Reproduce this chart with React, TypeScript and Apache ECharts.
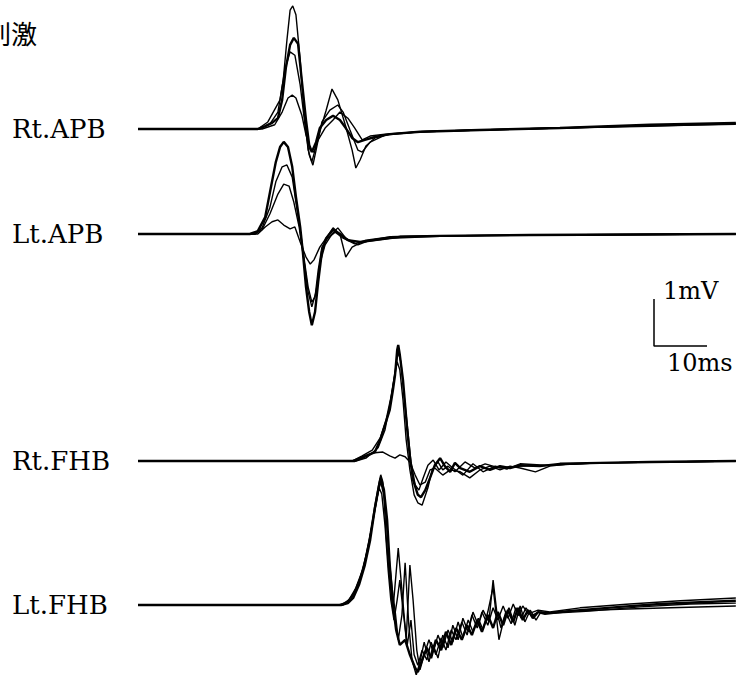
import React, { useEffect, useRef } from "react";
import * as echarts from "echarts";

// ---- Data: [time (ms), amplitude (mV)] per sweep, relative to each trace's baseline ----
const rtApbA: number[][] = [
  [0, 0], [22.6, 0], [24.0, 0.06], [25.3, 0.13], [26.4, 0.23], [27.2, 0.62], [27.9, 1.3], [28.7, 1.79],
  [29.4, 1.94], [30.2, 1.81], [30.9, 1.04], [31.7, 0.19], [32.3, -0.34], [32.8, -0.49], [33.6, -0.28],
  [34.3, 0.02], [35.5, 0.19], [36.8, 0.28], [38.1, 0.19], [39.2, 0.02], [40.4, -0.19], [41.5, -0.28],
  [42.8, -0.23], [44.7, -0.17], [47.5, -0.11], [53.2, -0.06], [64.5, -0.02], [79.6, 0.02], [96.6, 0.09], [112.8, 0.13],
];
const rtApbB: number[][] = [
  [0, 0], [23.0, 0], [24.9, 0.11], [26.4, 0.36], [27.4, 1.04], [28.1, 1.89], [28.7, 2.53], [29.2, 2.62],
  [29.8, 2.43], [30.6, 1.47], [31.3, 0.4], [32.1, -0.45], [32.8, -0.7], [33.4, -0.45], [34.3, -0.06],
  [35.5, 0.4], [36.6, 0.85], [37.7, 0.62], [39.1, 0.09], [40.4, -0.45], [41.1, -0.83], [41.9, -0.66],
  [43.0, -0.36], [44.7, -0.19], [47.5, -0.11], [53.2, -0.06], [64.5, -0.02], [79.6, 0.02], [96.6, 0.06], [112.8, 0.11],
];
const rtApbC: number[][] = [
  [0, 0], [23.4, 0], [25.8, 0.09], [27.2, 0.36], [28.3, 0.66], [29.1, 0.72], [29.8, 0.66], [30.9, 0.3],
  [31.7, -0.13], [32.5, -0.45], [33.2, -0.49], [34.0, -0.23], [35.3, 0.02], [36.8, 0.19], [38.1, 0.36],
  [39.6, 0.23], [40.9, 0.02], [42.3, -0.23], [43.8, -0.15], [46.6, -0.11], [53.2, -0.06], [64.5, -0.02],
  [79.6, 0.02], [96.6, 0.08], [112.8, 0.12],
];
const rtApbD: number[][] = [
  [0, 0], [22.6, 0], [24.5, 0.15], [26.8, 0.62], [27.7, 1.26], [28.7, 1.64], [29.6, 1.57], [30.6, 0.94],
  [31.5, 0.09], [32.3, -0.55], [33.0, -0.77], [33.6, -0.45], [34.7, 0.15], [36.2, 0.4], [37.7, 0.51],
  [38.7, 0.36], [40.0, -0.02], [41.5, -0.45], [42.3, -0.49], [43.8, -0.28], [46.6, -0.13], [53.2, -0.06],
  [64.5, -0.02], [79.6, 0.02], [96.6, 0.07], [112.8, 0.1],
];

const ltApbA: number[][] = [
  [0, 0], [21.1, 0], [22.6, 0.06], [24.0, 0.36], [24.9, 0.89], [26.0, 1.53], [26.8, 1.85], [27.5, 1.96],
  [28.3, 1.85], [29.1, 1.43], [29.8, 0.79], [30.6, 0.15], [31.1, -0.38], [31.7, -1.13], [32.3, -1.66],
  [32.8, -1.94], [33.4, -1.66], [34.0, -1.02], [34.7, -0.38], [35.5, -0.09], [36.8, 0.09], [38.1, 0],
  [39.6, -0.13], [41.9, -0.17], [44.7, -0.13], [49.4, -0.06], [57.0, -0.04], [74.0, -0.02], [112.8, 0],
];
const ltApbB: number[][] = [
  [0, 0], [22.1, 0], [23.4, 0.13], [24.9, 0.57], [26.0, 1.11], [27.2, 1.43], [28.1, 1.47], [29.1, 1.21],
  [29.8, 0.68], [30.6, 0.09], [31.3, -0.49], [32.1, -1.13], [32.8, -1.45], [33.4, -1.34], [34.0, -0.77],
  [34.7, -0.28], [35.8, -0.09], [37.2, 0.04], [38.7, -0.09], [40.9, -0.21], [43.0, -0.13], [47.5, -0.06],
  [57.0, -0.04], [74.0, -0.02], [112.8, 0],
];
const ltApbC: number[][] = [
  [0, 0], [22.6, 0], [24.0, 0.15], [25.3, 0.26], [26.4, 0.3], [27.5, 0.19], [28.7, 0.11], [29.6, 0.15],
  [30.6, -0.17], [31.7, -0.49], [32.5, -0.64], [33.2, -0.55], [34.3, -0.28], [35.5, -0.09], [36.8, 0.13],
  [38.1, 0], [39.2, -0.49], [40.4, -0.28], [42.3, -0.17], [47.5, -0.09], [57.0, -0.05], [74.0, -0.03], [112.8, 0],
];
const ltApbD: number[][] = [
  [0, 0], [22.1, 0], [23.4, 0.09], [24.9, 0.43], [26.4, 0.85], [27.5, 1.06], [28.5, 1.02], [29.4, 0.68],
  [30.4, 0.15], [31.3, -0.55], [32.1, -1.23], [32.8, -1.55], [33.6, -1.23], [34.3, -0.64], [35.3, -0.23],
  [36.6, 0], [37.7, 0.13], [39.2, -0.09], [41.5, -0.23], [43.8, -0.13], [47.5, -0.06], [57.0, -0.04],
  [74.0, -0.02], [112.8, 0],
];

const rtFhbA: number[][] = [
  [0, 0], [40.9, 0], [42.8, 0.09], [44.7, 0.19], [45.7, 0.45], [46.6, 0.77], [47.5, 1.09], [48.1, 1.51],
  [48.5, 1.83], [48.9, 2.36], [49.1, 2.47], [49.4, 2.26], [50.0, 1.72], [50.8, 0.66], [51.3, 0.09],
  [51.9, -0.4], [52.8, -0.72], [53.4, -0.77], [54.2, -0.62], [55.1, -0.36], [56.0, -0.09], [57.0, 0.06],
  [57.9, -0.11], [58.9, -0.23], [59.8, -0.04], [60.8, -0.15], [62.6, -0.23], [64.5, -0.11], [66.4, -0.19],
  [68.3, -0.11], [70.2, -0.15], [72.1, -0.09], [75.8, -0.11], [79.6, -0.06], [87.2, -0.04], [96.6, -0.02], [112.8, 0],
];
const rtFhbB: number[][] = [
  [0, 0], [40.4, 0], [42.3, 0.09], [44.2, 0.17], [46.2, 0.19], [47.5, 0.11], [48.5, 0.06], [49.4, 0.13],
  [50.4, 0.09], [51.3, -0.02], [52.3, -0.3], [53.2, -0.51], [54.2, -0.45], [55.1, -0.19], [56.0, -0.15],
  [57.5, -0.3], [58.9, -0.19], [60.8, -0.23], [62.6, -0.36], [64.5, -0.19], [66.4, -0.11], [68.3, -0.19],
  [70.2, -0.11], [72.1, -0.15], [75.0, -0.23], [77.7, -0.11], [81.5, -0.06], [87.2, -0.04], [112.8, 0],
];
const rtFhbC: number[][] = [
  [0, 0], [41.1, 0], [43.0, 0.06], [45.3, 0.28], [46.6, 0.66], [47.5, 1.19], [48.3, 1.72], [48.9, 2.11],
  [49.4, 1.94], [50.0, 1.3], [50.6, 0.45], [51.3, -0.19], [52.1, -0.72], [52.8, -0.89], [53.6, -0.94],
  [54.7, -0.57], [55.5, -0.19], [56.6, -0.02], [57.5, -0.19], [58.5, -0.11], [59.8, -0.23], [61.7, -0.02],
  [63.6, -0.15], [65.5, -0.06], [68.3, -0.15], [72.1, -0.11], [77.7, -0.09], [87.2, -0.04], [112.8, 0],
];
const rtFhbD: number[][] = [
  [0, 0], [40.4, 0], [42.3, 0.11], [44.2, 0.23], [45.7, 0.49], [46.8, 0.87], [47.7, 1.34], [48.5, 1.89],
  [49.1, 2.32], [49.6, 2.11], [50.2, 1.4], [50.8, 0.77], [51.5, -0.02], [52.3, -0.51], [53.0, -0.62],
  [53.8, -0.36], [54.7, -0.09], [55.7, 0.02], [56.8, -0.19], [58.1, -0.02], [59.4, -0.15], [61.3, -0.3],
  [63.2, -0.06], [65.1, -0.23], [67.4, -0.11], [69.6, -0.17], [72.1, -0.06], [76.8, -0.09], [87.2, -0.04], [112.8, 0],
];

const ltFhbA: number[][] = [
  [0, 0], [38.3, 0], [39.6, 0.04], [40.6, 0.15], [41.7, 0.43], [42.8, 0.85], [43.8, 1.38], [44.7, 2.06],
  [45.5, 2.55], [45.8, 2.7], [46.4, 2.45], [47.0, 1.81], [47.5, 0.85], [48.1, 0], [48.7, -0.53], [49.4, -0.85],
  [50.4, -0.74], [51.3, -1.06], [52.3, -1.34], [52.8, -1.43], [53.6, -1.17], [54.5, -0.91], [55.3, -1.13],
  [56.2, -0.74], [57.2, -0.96], [58.1, -0.57], [59.1, -0.85], [60.0, -0.49], [61.1, -0.74], [62.1, -0.43],
  [63.0, -0.64], [64.0, -0.32], [64.9, -0.57], [66.0, -0.21], [67.0, -0.49], [67.9, -0.15], [68.9, -0.43],
  [69.8, -0.11], [70.8, -0.36], [71.7, -0.06], [72.6, -0.32], [73.6, -0.11], [74.5, -0.28], [75.5, -0.15],
  [76.8, -0.19], [79.6, -0.15], [83.4, -0.11], [90.9, -0.04], [98.5, 0.02], [106.0, 0.06], [112.8, 0.09],
];
const ltFhbB: number[][] = [
  [0, 0], [38.7, 0], [40.0, 0.09], [41.1, 0.32], [42.3, 0.7], [43.4, 1.21], [44.5, 1.91], [45.3, 2.4],
  [45.8, 2.62], [46.4, 2.32], [46.8, 1.49], [47.4, 0.64], [48.1, -0.11], [49.1, 1.21], [49.8, 0.32],
  [50.6, -0.74], [51.3, 0.85], [51.9, 0.11], [52.6, -0.96], [53.2, -1.38], [54.0, -1.06], [54.9, -0.74],
  [55.7, -1.0], [56.6, -0.64], [57.5, -0.91], [58.5, -0.53], [59.4, -0.79], [60.4, -0.36], [61.3, -0.7],
  [62.3, -0.32], [63.2, -0.57], [64.2, -0.28], [65.1, -0.53], [66.0, -0.15], [67.0, 0.38], [68.1, -0.74],
  [69.1, -0.28], [70.0, -0.06], [71.1, -0.43], [72.1, -0.02], [73.0, -0.36], [74.0, -0.11], [75.1, -0.32],
  [76.0, -0.15], [77.7, -0.17], [81.5, -0.13], [90.9, -0.09], [100.4, -0.06], [112.8, -0.02],
];
const ltFhbC: number[][] = [
  [0, 0], [37.9, 0], [39.4, 0.06], [40.6, 0.23], [41.9, 0.57], [43.0, 1.04], [44.2, 1.7], [45.1, 2.28],
  [45.5, 2.49], [46.0, 2.36], [46.6, 1.7], [47.2, 0.74], [47.7, 0.11], [48.3, -0.32], [48.9, 0.11],
  [49.4, 0.53], [50.0, -0.11], [50.8, -0.85], [51.5, -0.32], [52.1, -1.06], [52.8, -1.28], [53.6, -0.96],
  [54.5, -1.17], [55.3, -0.79], [56.2, -1.06], [57.2, -0.7], [58.1, -0.96], [59.1, -0.53], [60.0, -0.74],
  [61.1, -0.36], [62.1, -0.64], [63.0, -0.21], [64.0, -0.49], [64.9, -0.15], [66.0, -0.43], [67.0, -0.06],
  [67.9, -0.32], [68.9, -0.02], [69.8, -0.28], [70.8, 0.02], [71.7, -0.23], [72.6, -0.02], [73.6, -0.19],
  [75.5, -0.11], [77.7, -0.15], [83.4, -0.06], [92.8, 0.02], [102.3, 0.09], [112.8, 0.15],
];
const ltFhbD: number[][] = [
  [0, 0], [38.3, 0], [39.8, 0.11], [41.1, 0.36], [42.5, 0.79], [43.6, 1.38], [44.7, 2.13], [45.5, 2.62],
  [45.8, 2.77], [46.2, 2.62], [46.8, 1.91], [47.4, 0.96], [48.1, 0.21], [48.5, -0.11], [49.1, -0.74],
  [49.8, -0.21], [50.4, 0.9], [51.1, -0.43], [51.7, -1.17], [52.5, -1.49], [53.2, -1.21], [54.0, -0.79],
  [54.9, -1.21], [55.7, -0.85], [56.6, -1.13], [57.5, -0.64], [58.5, -0.91], [59.4, -0.43], [60.4, -0.74],
  [61.3, -0.28], [62.3, -0.57], [63.2, -0.15], [64.2, -0.43], [65.1, -0.11], [66.2, -0.36], [67.0, 0.53],
  [67.7, -0.15], [68.5, -0.49], [69.4, -0.15], [70.4, -0.4], [71.3, -0.06], [72.3, -0.28], [73.2, -0.06],
  [74.2, -0.23], [75.5, -0.15], [78.7, -0.17], [85.3, -0.13], [94.7, -0.04], [104.2, 0.02], [112.8, 0.04],
];

const traceLabels = ["Rt.APB", "Lt.APB", "Rt.FHB", "Lt.FHB"];
const traceSweeps: number[][][][] = [
  [rtApbA, rtApbB, rtApbC, rtApbD],
  [ltApbA, ltApbB, ltApbC, ltApbD],
  [rtFhbA, rtFhbB, rtFhbC, rtFhbD],
  [ltFhbA, ltFhbB, ltFhbC, ltFhbD],
];
const stimulusLabel = "刺激";
const scaleMs = 10;
const scaleMv = 1;
const scaleLabels = ["1mV", "10ms"];

// ---- Layout (positions, not data) ----
const W = 736;
const H = 675;
const PX_PER_MS = 5.3;
const PX_PER_MV = 47;
const TRACE_START_PX = 138;
const baselinePx = [129, 234, 461, 605];
const scaleOriginPx = [654, 346];

const X_MIN = -TRACE_START_PX / PX_PER_MS;
const X_MAX = (W - TRACE_START_PX) / PX_PER_MS;
const Y_MIN = -H / PX_PER_MV;
const Y_MAX = 0;

export default function App() {
  const ref = useRef<HTMLDivElement>(null);
  useEffect(() => {
    if (!ref.current) return;
    const chart = echarts.init(ref.current, undefined, { renderer: "svg" });
    const series: any[] = [];
    traceSweeps.forEach((sweeps, ti) => {
      const off = -baselinePx[ti] / PX_PER_MV;
      sweeps.forEach((sw, si) => {
        series.push({
          type: "line",
          data: sw.map(([t, v]) => [t, v + off]),
          symbol: "none",
          silent: true,
          lineStyle: { color: "#000", width: si === 0 ? 2.4 : 1.4 },
          z: si === 0 ? 3 : 2,
        });
      });
    });
    const sx = (scaleOriginPx[0] - TRACE_START_PX) / PX_PER_MS;
    const sy = -scaleOriginPx[1] / PX_PER_MV;
    series.push({
      type: "line",
      data: [[sx, sy + scaleMv], [sx, sy], [sx + scaleMs, sy]],
      symbol: "none",
      silent: true,
      lineStyle: { color: "#000", width: 1.5 },
    });
    const serif = "'DejaVu Serif', 'Liberation Serif', serif";
    const graphic: any[] = traceLabels.map((lab, i) => ({
      type: "text",
      x: 12,
      y: baselinePx[i],
      style: { text: lab, font: `26px ${serif}`, fill: "#000", verticalAlign: "middle", align: "left" },
    }));
    graphic.push({
      type: "text",
      x: -15,
      y: 32,
      style: { text: stimulusLabel, font: "26px 'Noto Sans CJK JP'", fill: "#000", verticalAlign: "middle" },
    });
    graphic.push({
      type: "text",
      x: 663,
      y: 291,
      style: { text: scaleLabels[0], font: `24px ${serif}`, fill: "#000", verticalAlign: "middle" },
    });
    graphic.push({
      type: "text",
      x: 667,
      y: 363,
      style: { text: scaleLabels[1], font: `24px ${serif}`, fill: "#000", verticalAlign: "middle" },
    });
    chart.setOption({
      animation: false,
      backgroundColor: "#fff",
      grid: { left: 0, right: 0, top: 0, bottom: 0, containLabel: false },
      xAxis: { type: "value", min: X_MIN, max: X_MAX, show: false },
      yAxis: { type: "value", min: Y_MIN, max: Y_MAX, show: false },
      series,
      graphic,
    });
    return () => chart.dispose();
  }, []);
  return (
    <div
      ref={ref}
      style={{ position: "fixed", left: 0, top: 0, width: W, height: H, background: "#fff" }}
    />
  );
}
